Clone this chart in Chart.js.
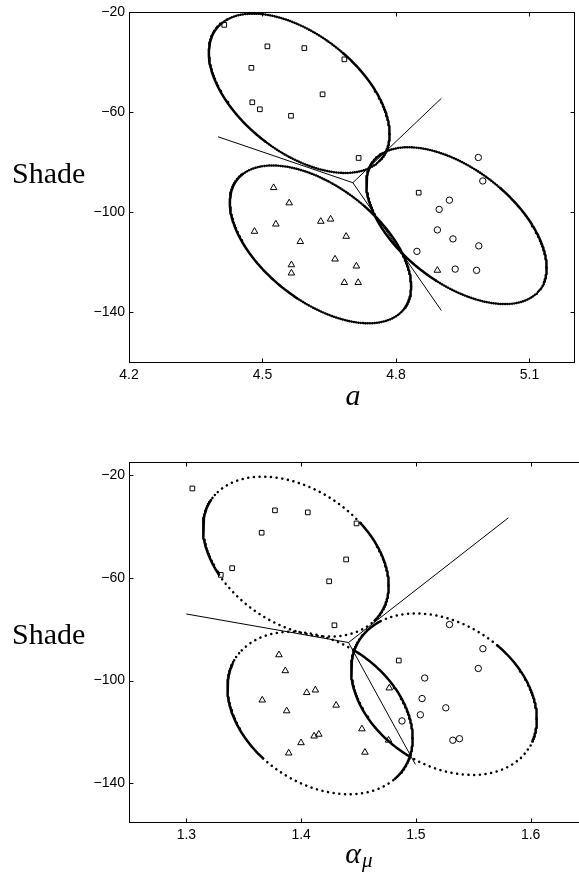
<!DOCTYPE html>
<html>
<head>
<meta charset="utf-8">
<script src="https://cdn.jsdelivr.net/npm/chart.js@4.4.1/dist/chart.umd.min.js"></script>
<style>
  html, body { margin: 0; padding: 0; background: #fff; width: 579px; height: 878px; overflow: hidden; }
  canvas { position: absolute; left: 0; }
  #chartA { top: 0; }
  #chartMu { top: 430px; }
</style>
</head>
<body>
<canvas id="chartA" width="579" height="430"></canvas>
<canvas id="chartMu" width="600" height="448"></canvas>
<script>
// ---------- Shade against a ----------
const aTicksX = [4.2, 4.5, 4.8, 5.1];
const aTicksY = [-20, -60, -100, -140];

const aSquareX = [4.414, 4.511, 4.594, 4.684, 4.475, 4.635, 4.477, 4.494, 4.564, 4.716, 4.851];
const aSquareY = [-25.0, -33.6, -34.3, -38.8, -42.2, -52.8, -56.0, -58.8, -61.4, -78.3, -92.2];
const aCircleX = [4.985, 4.995, 4.920, 4.897, 4.893, 4.928, 4.986, 4.847, 4.933, 4.981];
const aCircleY = [-78.1, -87.5, -95.2, -98.9, -107.1, -110.7, -113.5, -115.7, -122.8, -123.3];
const aTriangleX = [4.525, 4.560, 4.530, 4.631, 4.653, 4.482, 4.688, 4.585, 4.663, 4.565, 4.711, 4.565, 4.684, 4.715, 4.893];
const aTriangleY = [-90.2, -96.3, -104.8, -103.7, -102.8, -107.7, -109.7, -111.8, -118.8, -121.1, -121.6, -124.4, -128.2, -128.2, -123.3];

// group ellipses: centre, half extent in x and y, correlation (squares, triangles, circles)
const aEllipseCX = [4.5825, 4.6303, 4.9359];
const aEllipseCY = [-52.4, -112.9, -105.4];
const aEllipseHX = [0.2031, 0.2037, 0.2026];
const aEllipseHY = [31.9, 31.6, 31.4];
const aEllipseRho = [-0.51, -0.53, -0.535];

// decision boundaries: junction and three end points
const aJunction = [4.703, -88.2];
const aBoundaryEndX = [4.40, 4.902, 4.902];
const aBoundaryEndY = [-69.8, -54.4, -139.4];

// ---------- Shade against alpha_mu ----------
const muTicksX = [1.3, 1.4, 1.5, 1.6];
const muTicksY = [-20, -60, -100, -140];

const muSquareX = [1.3052, 1.3772, 1.4058, 1.4483, 1.3656, 1.4392, 1.3399, 1.3300, 1.4244, 1.4290, 1.4851];
const muSquareY = [-25.3, -33.8, -34.6, -38.9, -42.5, -52.9, -56.3, -58.9, -61.4, -78.5, -92.2];
const muCircleX = [1.5293, 1.5584, 1.5544, 1.5077, 1.5054, 1.5261, 1.5039, 1.4879, 1.5322, 1.5380];
const muCircleY = [-78.2, -87.6, -95.3, -99.0, -107.0, -110.6, -113.3, -115.7, -123.2, -122.6];
const muTriangleX = [1.3807, 1.3862, 1.4049, 1.4124, 1.3661, 1.4305, 1.3874, 1.4768, 1.4530, 1.4113, 1.4154, 1.4762, 1.3999, 1.3892, 1.4556];
const muTriangleY = [-90.0, -96.2, -104.7, -103.7, -107.6, -109.6, -111.8, -102.9, -118.8, -121.6, -120.9, -123.2, -124.2, -128.2, -127.9];

const muEllipseCX = [1.3954, 1.4165, 1.5245];
const muEllipseCY = [-51.8, -112.6, -105.3];
const muEllipseHX = [0.0809, 0.0807, 0.0809];
const muEllipseHY = [31.1, 31.6, 31.4];
const muEllipseRho = [-0.36, -0.31, -0.305];

const muJunction = [1.4413, -85.2];
const muBoundaryEndX = [1.300, 1.5806, 1.4996];
const muBoundaryEndY = [-74.1, -36.7, -132.6];

// ---------- drawing helpers ----------
const zip = (xs, ys) => xs.map((x, i) => ({ x, y: ys[i] }));

function outline(cx, cy, hx, hy, rho) {
  const k = Math.sqrt(1 - rho * rho);
  const pts = [];
  const n = 360;
  for (let i = 0; i <= n; i++) {
    const t = 2 * Math.PI * i / n;
    pts.push({ x: cx + hx * Math.cos(t), y: cy + hy * (rho * Math.cos(t) + k * Math.sin(t)) });
  }
  return pts;
}

// arcs (screen angle from the centre, degrees, 0 = right, +90 = down) drawn dotted
const styleA = {
  dotted: [[[-138, -43], [40, 125]], [[-138, -41], [37, 113]], [[-136, -40], [33, 111]]],
  dots: [0.1, 2.2]
};
const styleMu = {
  dotted: [[[-146, -28], [39, 167]], [[-151, -62], [41, 142]], [[-132, -42], [28, 119]]],
  dots: [0.1, 5.6]
};

function dottedDash(ctx) {
  const chart = ctx.chart;
  const ds = chart.data.datasets[ctx.datasetIndex];
  const cx = chart.scales.x.getPixelForValue(ds.centre[0]);
  const cy = chart.scales.y.getPixelForValue(ds.centre[1]);
  const mx = (ctx.p0.x + ctx.p1.x) / 2 - cx;
  const my = (ctx.p0.y + ctx.p1.y) / 2 - cy;
  const phi = Math.atan2(my, mx) * 180 / Math.PI;
  return ds.dottedArcs.some(([a, b]) => phi >= a && phi <= b) ? ds.dotPattern : undefined;
}

function buildDatasets(eCX, eCY, eHX, eHY, eRho, style, junction, endX, endY,
                       sqX, sqY, ciX, ciY, trX, trY) {
  const sets = [];
  const markerBase = { type: 'scatter', backgroundColor: 'rgba(0,0,0,0)', borderColor: '#000',
                       borderWidth: 1, pointBorderWidth: 1 };
  sets.push(Object.assign({ data: zip(sqX, sqY), pointStyle: 'rect', pointRadius: 3.3 }, markerBase));
  sets.push(Object.assign({ data: zip(ciX, ciY), pointStyle: 'circle', pointRadius: 3.2 }, markerBase));
  sets.push(Object.assign({ data: zip(trX, trY), pointStyle: 'triangle', pointRadius: 3.8 }, markerBase));
  endX.forEach((x, i) => {
    sets.push({ type: 'line', data: [{ x: junction[0], y: junction[1] }, { x, y: endY[i] }],
                borderColor: '#000', borderWidth: 1, pointRadius: 0, tension: 0 });
  });
  eCX.forEach((cx, i) => {
    sets.push({
      type: 'line', data: outline(cx, eCY[i], eHX[i], eHY[i], eRho[i]),
      centre: [cx, eCY[i]], dottedArcs: style.dotted[i], dotPattern: style.dots,
      borderColor: '#000', borderWidth: 2.5, borderCapStyle: 'round', borderJoinStyle: 'round',
      pointRadius: 0, tension: 0, segment: { borderDash: dottedDash }
    });
  });
  return sets;
}

const framePlugin = {
  id: 'frame',
  afterDraw(chart, args, opts) {
    const { ctx, chartArea, scales: { x, y } } = chart;
    const L = Math.round(chartArea.left) + 0.5, R = Math.round(chartArea.right) + 0.5;
    const T = Math.round(chartArea.top) + 0.5, B = Math.round(chartArea.bottom) + 0.5;
    const len = 4;
    ctx.save();
    ctx.strokeStyle = '#000';
    ctx.lineWidth = 1;
    ctx.strokeRect(L, T, R - L, B - T);
    ctx.beginPath();
    x.ticks.forEach(t => {
      const p = Math.round(x.getPixelForValue(t.value)) + 0.5;
      ctx.moveTo(p, B); ctx.lineTo(p, B - len);
      ctx.moveTo(p, T); ctx.lineTo(p, T + len);
    });
    y.ticks.forEach(t => {
      const p = Math.round(y.getPixelForValue(t.value)) + 0.5;
      ctx.moveTo(L, p); ctx.lineTo(L + len, p);
      ctx.moveTo(R, p); ctx.lineTo(R - len, p);
    });
    ctx.stroke();

    ctx.fillStyle = '#000';
    ctx.textBaseline = 'alphabetic';
    ctx.textAlign = 'left';
    ctx.font = '30px "Liberation Serif", "DejaVu Serif", serif';
    ctx.fillText(opts.yTitle.text, opts.yTitle.x, opts.yTitle.y);

    const t = opts.xTitle;
    ctx.font = 'italic 30px "Liberation Serif", "DejaVu Serif", serif';
    const wMain = ctx.measureText(t.text).width;
    ctx.font = 'italic 21px "Liberation Serif", "DejaVu Serif", serif';
    const wSub = t.sub ? ctx.measureText(t.sub).width + 1 : 0;
    const x0 = t.x - (wMain + wSub) / 2;
    ctx.font = 'italic 30px "Liberation Serif", "DejaVu Serif", serif';
    ctx.fillText(t.text, x0, t.y);
    if (t.sub) {
      ctx.font = 'italic 21px "Liberation Serif", "DejaVu Serif", serif';
      ctx.fillText(t.sub, x0 + wMain + 1, t.y + 4);
    }
    ctx.restore();
  }
};

const tickFont = { family: '"Liberation Sans", Arial, sans-serif', size: 14 };
const minus = s => String(s).replace('-', '\u2212');

function makeChart(id, datasets, xr, yr, xTicks, yTicks, pad, xHeight, titles) {
  return new Chart(document.getElementById(id), {
    type: 'scatter',
    data: { datasets },
    plugins: [framePlugin],
    options: {
      responsive: false,
      animation: false,
      events: [],
      layout: { padding: pad },
      plugins: { legend: { display: false }, tooltip: { enabled: false }, frame: titles },
      scales: {
        x: {
          type: 'linear', min: xr[0], max: xr[1],
          grid: { display: false, drawTicks: false }, border: { display: false },
          afterBuildTicks: s => { s.ticks = xTicks.map(v => ({ value: v })); },
          afterFit: s => { s.height = xHeight; },
          ticks: { font: tickFont, color: '#000', padding: 5, maxRotation: 0,
                   callback: v => v.toFixed(1) }
        },
        y: {
          type: 'linear', min: yr[0], max: yr[1],
          grid: { display: false, drawTicks: false }, border: { display: false },
          afterBuildTicks: s => { s.ticks = yTicks.map(v => ({ value: v })); },
          afterFit: s => { s.width = 129; },
          ticks: { font: tickFont, color: '#000', padding: 4, callback: v => minus(v) }
        }
      }
    }
  });
}

makeChart('chartA',
  buildDatasets(aEllipseCX, aEllipseCY, aEllipseHX, aEllipseHY, aEllipseRho, styleA,
                aJunction, aBoundaryEndX, aBoundaryEndY,
                aSquareX, aSquareY, aCircleX, aCircleY, aTriangleX, aTriangleY),
  [4.2, 5.2], [-160, -20], aTicksX, aTicksY,
  { top: 10, right: 4, bottom: 0, left: 0 }, 68,
  { yTitle: { text: 'Shade', x: 12, y: 182.5 }, xTitle: { text: 'a', sub: '', x: 353, y: 405 } });

makeChart('chartMu',
  buildDatasets(muEllipseCX, muEllipseCY, muEllipseHX, muEllipseHY, muEllipseRho, styleMu,
                muJunction, muBoundaryEndX, muBoundaryEndY,
                muSquareX, muSquareY, muCircleX, muCircleY, muTriangleX, muTriangleY),
  [1.25, 1.65], [-155, -15], muTicksX, muTicksY,
  { top: 32, right: 12, bottom: 0, left: 0 }, 56,
  { yTitle: { text: 'Shade', x: 12, y: 214 }, xTitle: { text: '\u03b1', sub: '\u03bc', x: 359, y: 433 } });
</script>
</body>
</html>
